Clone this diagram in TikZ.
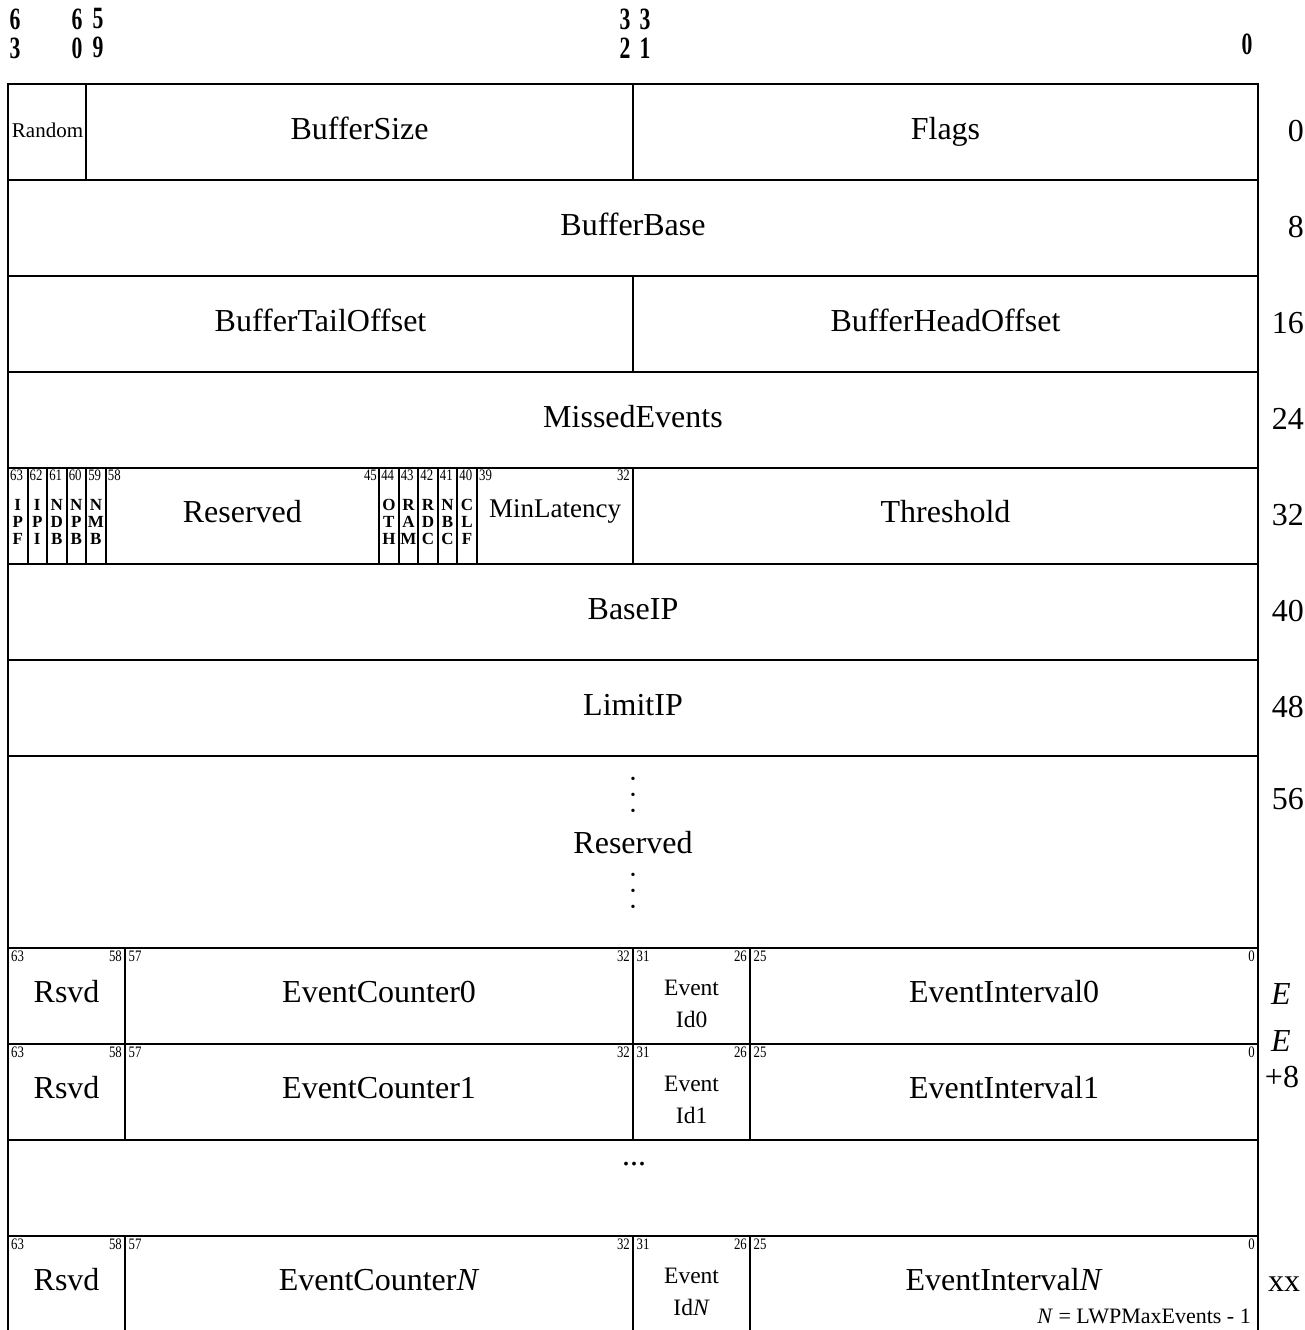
\documentclass[tikz,border=0pt]{standalone}
\usepackage{fontspec}
\setmainfont{Liberation Serif}
\usepackage{graphicx}
\newcommand\sn[1]{\scalebox{0.8}[1]{#1}}
\newcommand\hd[1]{\scalebox{0.7}[1]{#1}}
\tikzset{
 gridline/.style={line width=2pt, line cap=rect},
 big/.style={font=\fontsize{32}{38}\selectfont, anchor=base, inner sep=0pt},
 med/.style={font=\fontsize{23.5}{32}\selectfont, align=center, inner sep=0pt},
 bitn/.style={font=\fontsize{16}{16}\selectfont, inner sep=0pt},
 flag/.style={font=\fontsize{17}{17}\selectfont\bfseries, align=center, inner sep=0pt},
 hdr/.style={font=\fontsize{31}{29}\selectfont\bfseries, align=center, inner sep=0pt},
 rnum/.style={font=\fontsize{32}{38}\selectfont, anchor=base east, inner sep=0pt},
 rlab/.style={font=\fontsize{32}{38}\selectfont, anchor=base, inner sep=0pt},
 dotnode/.style={font=\fontsize{14}{14}\selectfont, anchor=center, inner sep=0pt},
}
\newcommand\evrow[5]{%
 \node[bitn, anchor=north west] (a#2) at (11,#1+3) {\sn{63}};
 \node[bitn, anchor=north east] (b#2) at (122,#1+3) {\sn{58}};
 \node[bitn, anchor=north west] (c#2) at (128.5,#1+3) {\sn{57}};
 \node[bitn, anchor=north east] (d#2) at (630,#1+3) {\sn{32}};
 \node[bitn, anchor=north west] (e#2) at (636.5,#1+3) {\sn{31}};
 \node[bitn, anchor=north east] (f#2) at (747,#1+3) {\sn{26}};
 \node[bitn, anchor=north west] (g#2) at (753.5,#1+3) {\sn{25}};
 \node[bitn, anchor=north east] (h#2) at (1255,#1+3) {\sn{0}};
 \node[big] (rsvd#2) at (66.6,#1+54) {Rsvd};
 \node[big] (cnt#2) at (379.1,#1+54) {EventCounter#3};
 \node[med] (id#2) at (691.6,#1+56) {Event\\Id#4};
 \node[big] (int#2) at (1004.1,#1+54) {EventInterval#5};
}
\begin{document}
\begin{tikzpicture}[x=1pt,y=-1pt]
\useasboundingbox (0,0) rectangle (1305,1330);
% header bit numbers
\node[hdr] (h63) at (15,33.5) {\hd{6}\\\hd{3}};
\node[hdr] (h60) at (77,33.5) {\hd{6}\\\hd{0}};
\node[hdr] (h59) at (98,33.5) {\hd{5}\\\hd{9}};
\node[hdr] (h32) at (625,33.5) {\hd{3}\\\hd{2}};
\node[hdr] (h31) at (645,33.5) {\hd{3}\\\hd{1}};
\node[hdr] (h0) at (1247,44) {\hd{0}};
% grid: horizontal lines
\foreach \y in {84,180,276,372,468,564,660,756,948,1044,1140,1236}
  \draw[gridline] (8,\y) -- (1258,\y);
\draw[gridline] (8,84) -- (8,1332);
\draw[gridline] (1258,84) -- (1258,1332);
% row 0
\draw[gridline] (86.13,84) -- (86.13,180);
\draw[gridline] (633,84) -- (633,180);
% row 16
\draw[gridline] (633,276) -- (633,372);
% row 32
\foreach \x in {27.53,47.06,66.59,86.13,105.66,379.09,398.63,418.16,437.69,457.22,476.75,633}
  \draw[gridline] (\x,468) -- (\x,564);
% event rows
\foreach \t/\b in {948/1044,1044/1140,1236/1332}
  \foreach \x in {125.19,633,750.19}
    \draw[gridline] (\x,\t) -- (\x,\b);
% row texts
\node[font=\fontsize{21}{24}\selectfont, anchor=base, inner sep=0pt] (rand) at (47.5,137) {Random};
\node[big] (bsize) at (359.6,139) {BufferSize};
\node[big] (flags) at (945.5,139) {Flags};
\node[big] (bbase) at (633,235) {BufferBase};
\node[big] (btail) at (320.5,331) {BufferTailOffset};
\node[big] (bhead) at (945.5,331) {BufferHeadOffset};
\node[big] (missed) at (633,427) {MissedEvents};
% row 32 fields
\foreach \n/\x/\t in {63/8/{I\\P\\F},62/27.53/{I\\P\\I},61/47.06/{N\\D\\B},60/66.59/{N\\P\\B},59/86.13/{N\\M\\B},44/379.09/{O\\T\\H},43/398.63/{R\\A\\M},42/418.16/{R\\D\\C},41/437.69/{N\\B\\C},40/457.22/{C\\L\\F}}{
  \node[bitn, anchor=north west] (n\n) at (\x+2,470) {\sn{\n}};
  \node[flag] (f\n) at (\x+9.77,522) {\t};
}
\node[bitn, anchor=north west] (n58) at (107.7,470) {\sn{58}};
\node[bitn, anchor=north east] (n45) at (377,470) {\sn{45}};
\node[bitn, anchor=north west] (n39) at (479,470) {\sn{39}};
\node[bitn, anchor=north east] (n32) at (630,470) {\sn{32}};
\node[big] (resv1) at (242.4,522) {Reserved};
\node[font=\fontsize{27}{30}\selectfont, anchor=base, inner sep=0pt] (minlat) at (555,517) {MinLatency};
\node[big] (thresh) at (945.5,522) {Threshold};
\node[big] (baseip) at (633,619) {BaseIP};
\node[big] (limitip) at (633,715) {LimitIP};
% reserved block
\foreach \k/\y in {1/780,2/796,3/812,4/876,5/892,6/908}
  \node[dotnode] (dot\k) at (633,\y) {•};
\node[big] (resv2) at (633,853) {Reserved};
% event rows
\evrow{948}{0}{0}{0}{0}
\evrow{1044}{1}{1}{1}{1}
\node[big] (ell) at (634,1165) {...};
\evrow{1236}{N}{\textit{N}}{\textit{N}}{\textit{N}}
\node[font=\fontsize{22}{26}\selectfont, anchor=base east, inner sep=0pt] (nnote) at (1251,1323) {\textit{N} = LWPMaxEvents - 1};
% offsets
\node[rnum] (o0) at (1304,141) {0};
\node[rnum] (o8) at (1304,237) {8};
\node[rnum] (o16) at (1304,333) {16};
\node[rnum] (o24) at (1304,429) {24};
\node[rnum] (o32) at (1304,525) {32};
\node[rnum] (o40) at (1304,621) {40};
\node[rnum] (o48) at (1304,717) {48};
\node[rnum] (o56) at (1304,809) {56};
\node[rlab] (oe) at (1281,1004) {\textit{E}};
\node[rlab] (oe8a) at (1281,1051) {\textit{E}};
\node[rlab] (oe8b) at (1282,1087) {+8};
\node[rlab] (oxx) at (1284,1291) {xx};
\end{tikzpicture}
\end{document}
